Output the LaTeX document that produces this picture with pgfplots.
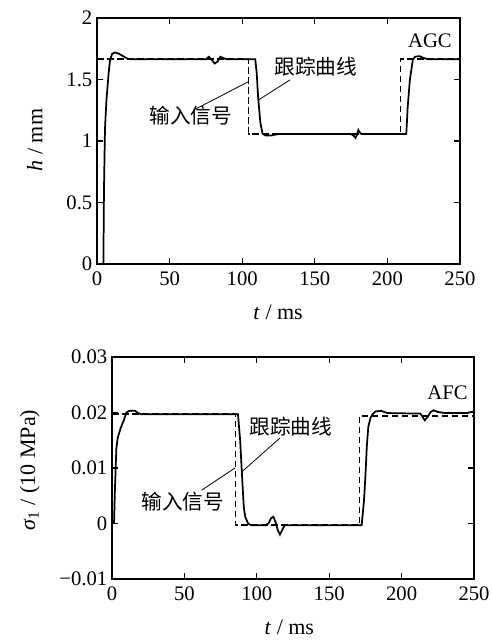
\documentclass[border=0pt]{standalone}
\usepackage{fontspec}
\setmainfont{Liberation Serif}
\newfontfamily\cjk{Noto Sans CJK SC}
\usepackage{pgfplots}
\pgfplotsset{compat=1.18}
\newcommand{\fs}{\fontsize{15.5}{18}\selectfont}
\newcommand{\fl}{\fontsize{16.5}{19}\selectfont}
\tikzset{lbl/.style={font=\fs, inner sep=0pt}}
\pgfplotsset{
  common/.style={
    scale only axis,
    axis line style={line width=0.8pt},
    tick style={line width=0.8pt, black},
    major tick length=4.5pt,
    tick align=inside,
    xmin=0, xmax=250,
    xtick={0,50,100,150,200,250},
    xticklabels={\textrm{0},\textrm{50},\textrm{100},\textrm{150},\textrm{200},\textrm{250}},
    scaled ticks=false,
    tick label style={font=\fs},
    xticklabel style={yshift=-2pt},
    label style={font=\fl},
  },
  trk/.style={black, line width=1.3pt},
  inp/.style={black, line width=1.1pt, dash pattern=on 5pt off 2.5pt},
}
\begin{document}
\begin{tikzpicture}
\path[use as bounding box] (0,0) rectangle (369pt,482.25pt);

% upper panel: AGC
\begin{axis}[common,
  at={(72.75pt,284.25pt)}, anchor=south west,
  width=272.25pt, height=184.5pt,
  ymin=0, ymax=2,
  ytick={0,0.5,1,1.5,2},
  yticklabels={\textrm{0},\textrm{0.5},\textrm{1},\textrm{1.5},\textrm{2}},
  xlabel={\textit{t} / ms},
  ylabel={\textit{h} / mm},
  xlabel style={at={(axis description cs:0.499,-0.195)}, anchor=center},
  ylabel style={at={(axis description cs:-0.171,0.504)}, anchor=center},
]
\addplot[inp] coordinates {
  (0,1.665) (104.5,1.665) (104.5,1.057) (209,1.057) (209,1.665) (250,1.665)
};
\addplot[trk] coordinates {
  (4.4,0) (4.8,0.6) (5.5,1.1) (6.5,1.33) (8,1.55) (9,1.66) (10.5,1.71)
  (12.5,1.72) (15,1.71) (18,1.69) (21,1.67) (23,1.665)
  (75,1.665) (77,1.685) (79,1.66) (81,1.63) (83,1.645) (85,1.685) (87,1.675) (89,1.665)
  (109,1.665) (110,1.55) (111,1.35) (112.5,1.15) (114,1.06) (116,1.045)
  (120,1.045) (122,1.05) (125,1.057)
  (175,1.057) (177,1.04) (178,1.025) (179,1.05) (180,1.09) (181,1.07) (182,1.057)
  (213,1.057) (214,1.28) (215.5,1.5) (217.5,1.66) (219,1.685) (222,1.69)
  (225,1.675) (228,1.665) (250,1.665)
};
\node[lbl] at (axis cs:229.3,1.813) {AGC};
\node[lbl] at (axis cs:150.8,1.602) {\cjk 跟踪曲线};
\node[lbl] at (axis cs:64.7,1.205) {\cjk 输入信号};
\draw[line width=0.6pt] (axis cs:132.9,1.496) -- (axis cs:111.1,1.333);
\draw[line width=0.6pt] (axis cs:104.2,1.482) -- (axis cs:66.3,1.250);
\end{axis}

% lower panel: AFC
\begin{axis}[common,
  at={(84pt,48pt)}, anchor=south west,
  width=271.5pt, height=166.5pt,
  ymin=-0.01, ymax=0.03,
  ytick={-0.01,0,0.01,0.02,0.03},
  yticklabels={\textrm{−0.01},\textrm{0},\textrm{0.01},\textrm{0.02},\textrm{0.03}},
  xlabel={\textit{t} / ms},
  ylabel={\textit{σ}\textsubscript{1} / (10 MPa)},
  xlabel style={at={(axis description cs:0.49,-0.216)}, anchor=center},
  ylabel style={at={(axis description cs:-0.227,0.49)}, anchor=center},
]
\addplot[inp] coordinates {
  (0,0.0197) (85.4,0.0197) (85.4,-0.0003) (170.8,-0.0003) (170.8,0.0194) (250,0.0194)
};
\addplot[trk] coordinates {
  (1.4,0) (2,0.006) (3,0.0135) (4,0.0155) (6,0.0172) (8,0.0185) (10,0.0200)
  (12,0.0203) (16,0.0203) (18,0.0199) (20,0.0197)
  (87,0.0197) (88.5,0.015) (89.6,0.0096) (91,0.003) (92,0.0012) (94,0.0000)
  (96,-0.0003) (106,-0.0003) (108,0.0000) (110,0.0010) (111.5,0.0012)
  (113,0.0002) (114.5,-0.0012) (116,-0.0020) (117.5,-0.0012) (119,-0.0004)
  (120,-0.0003) (172.4,-0.0003) (174,0.004) (175,0.0085) (176,0.014)
  (177,0.0174) (178.5,0.019) (180,0.0197) (182,0.0202) (186,0.0203)
  (190,0.0199) (213,0.0198) (214.5,0.0192) (216,0.0186) (218,0.0192)
  (220,0.0201) (222,0.0204) (225,0.0201) (230,0.0199) (245,0.0199)
  (248,0.0201) (250,0.0201)
};
\node[lbl] at (axis cs:231.7,0.0236) {AFC};
\node[lbl] at (axis cs:123.6,0.0175) {\cjk 跟踪曲线};
\node[lbl] at (axis cs:49.0,0.0039) {\cjk 输入信号};
\draw[line width=0.6pt] (axis cs:116.0,0.0154) -- (axis cs:89.6,0.0093);
\draw[line width=0.6pt] (axis cs:84.9,0.0100) -- (axis cs:61.9,0.0060);
\end{axis}
\end{tikzpicture}
\end{document}
